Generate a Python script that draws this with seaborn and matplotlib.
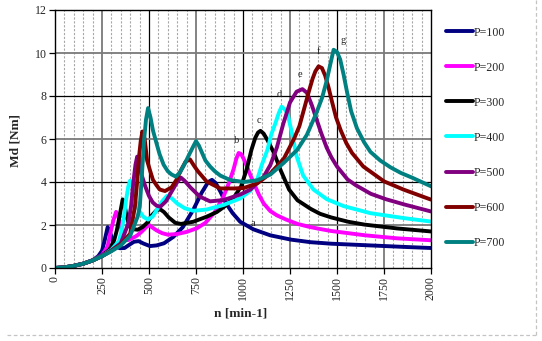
import matplotlib
matplotlib.use("Agg")
import matplotlib.pyplot as plt
from matplotlib.lines import Line2D
import numpy as np
import pandas as pd
import seaborn as sns

# ---------------- data ----------------
n_100 = [0, 50, 100, 150, 200, 230, 250, 262, 280, 292, 305, 320, 345, 370, 395, 420, 445, 470, 505, 540,
         580, 630, 680, 735, 780, 815, 835, 855, 880, 910, 945, 985, 1055, 1145, 1255, 1360, 1470, 1600,
         1730, 1860, 2000]
md_100 = [0, 0.03, 0.1, 0.2, 0.36, 0.55, 0.8, 1.2, 1.9, 1.7, 1.3, 1.02, 0.92, 0.93, 1.08, 1.22, 1.25, 1.14,
          1.02, 1.05, 1.15, 1.45, 1.9, 2.7, 3.5, 4.0, 4.1, 3.95, 3.55, 3.0, 2.55, 2.15, 1.8, 1.52, 1.32,
          1.2, 1.13, 1.08, 1.03, 0.98, 0.93]

n_200 = [0, 50, 100, 150, 200, 250, 280, 294, 311, 325, 335, 346, 359, 372, 390, 410, 435, 460, 485, 500,
         515, 540, 570, 600, 650, 700, 755, 800, 850, 895, 925, 950, 965, 977, 990, 1005, 1020, 1040, 1060,
         1085, 1110, 1145, 1180, 1230, 1290, 1350, 1400, 1470, 1560, 1650, 1820, 2000]
md_200 = [0, 0.03, 0.1, 0.2, 0.36, 0.6, 1.0, 1.6, 2.23, 2.61, 2.45, 2.07, 1.6, 1.3, 1.3, 1.38, 1.5, 1.68,
          1.9, 2.0, 1.9, 1.75, 1.62, 1.55, 1.58, 1.68, 1.85, 2.1, 2.6, 3.3, 3.95, 4.6, 5.1, 5.35, 5.3, 5.05,
          4.75, 4.3, 3.9, 3.4, 3.0, 2.65, 2.45, 2.25, 2.05, 1.92, 1.83, 1.72, 1.62, 1.52, 1.38, 1.29]

n_300 = [0, 50, 100, 150, 200, 250, 290, 315, 329, 346, 360, 370, 381, 398, 420, 440, 465, 490, 515, 540,
         560, 580, 605, 640, 670, 735, 805, 860, 900, 950, 990, 1020, 1045, 1065, 1080, 1093, 1110, 1130,
         1165, 1200, 1245, 1290, 1360, 1410, 1470, 1560, 1645, 1820, 2000]
md_300 = [0, 0.03, 0.1, 0.2, 0.35, 0.58, 0.85, 1.3, 1.76, 2.54, 3.19, 2.95, 2.38, 1.92, 1.8, 1.78, 1.9, 2.1,
          2.45, 2.68, 2.73, 2.6, 2.35, 2.1, 2.05, 2.15, 2.38, 2.6, 2.85, 3.25, 3.8, 4.6, 5.5, 6.05, 6.3, 6.38,
          6.25, 5.95, 5.35, 4.55, 3.65, 3.15, 2.75, 2.52, 2.35, 2.15, 2.02, 1.84, 1.7]

n_400 = [0, 50, 100, 150, 200, 250, 300, 340, 355, 367, 378, 390, 399, 410, 425, 445, 470, 495, 520, 545,
         570, 595, 620, 650, 690, 736, 807, 896, 986, 1040, 1075, 1100, 1130, 1150, 1173, 1190, 1205, 1220,
         1236, 1260, 1285, 1320, 1375, 1446, 1535, 1678, 1856, 2000]
md_400 = [0, 0.03, 0.1, 0.2, 0.35, 0.56, 0.85, 1.25, 1.76, 2.4, 3.16, 3.8, 4.06, 3.85, 3.2, 2.7, 2.38, 2.25,
          2.4, 2.75, 3.1, 3.35, 3.25, 3.0, 2.78, 2.66, 2.72, 2.93, 3.24, 3.6, 4.1, 4.8, 5.5, 6.2, 6.75, 7.2,
          7.5, 7.4, 7.2, 6.3, 5.2, 4.3, 3.65, 3.2, 2.88, 2.55, 2.32, 2.16]

n_500 = [0, 50, 100, 150, 200, 250, 300, 350, 390, 405, 416, 428, 437, 447, 460, 480, 500, 520, 540, 560,
         590, 620, 650, 670, 690, 720, 770, 825, 896, 986, 1040, 1075, 1110, 1146, 1180, 1214, 1250, 1285,
         1316, 1340, 1365, 1390, 1415, 1445, 1470, 1500, 1556, 1600, 1680, 1760, 1860, 2000]
md_500 = [0, 0.03, 0.1, 0.2, 0.35, 0.55, 0.82, 1.15, 2.07, 2.9, 3.94, 4.8, 5.18, 5.0, 4.35, 3.8, 3.35, 3.05,
          2.9, 2.85, 3.1, 3.55, 4.0, 4.2, 4.05, 3.75, 3.32, 3.1, 3.16, 3.42, 3.65, 3.95, 4.25, 4.8, 5.6,
          6.7, 7.7, 8.2, 8.32, 8.15, 7.6, 6.95, 6.3, 5.6, 5.15, 4.72, 4.12, 3.85, 3.45, 3.2, 2.95, 2.63]

n_600 = [0, 50, 100, 150, 200, 250, 300, 350, 400, 425, 437, 447, 456, 465, 477, 490, 505, 521, 540, 557,
         585, 620, 646, 670, 695, 718, 740, 760, 807, 879, 950, 1004, 1075, 1146, 1218, 1271, 1300, 1325,
         1350, 1370, 1385, 1402, 1420, 1437, 1455, 1473, 1495, 1520, 1550, 1580, 1640, 1750, 1856, 2000]
md_600 = [0, 0.03, 0.1, 0.2, 0.35, 0.55, 0.8, 1.1, 1.6, 2.85, 4.0, 5.18, 5.9, 6.35, 6.0, 5.0, 4.55, 4.1,
          3.85, 3.65, 3.58, 3.75, 4.1, 4.55, 4.95, 5.05, 4.75, 4.5, 4.02, 3.7, 3.7, 3.72, 3.93, 4.4, 5.1,
          6.0, 6.6, 7.4, 8.2, 8.8, 9.15, 9.38, 9.3, 8.95, 8.4, 7.75, 7.0, 6.4, 5.8, 5.35, 4.72, 4.03, 3.64,
          3.18]

n_700 = [0, 50, 100, 150, 200, 250, 300, 350, 400, 440, 451, 462, 474, 484, 495, 508, 521, 540, 556, 578,
         600, 620, 643, 665, 690, 715, 735, 750, 765, 780, 800, 825, 850, 879, 932, 1004, 1075, 1146, 1218,
         1289, 1340, 1390, 1420, 1445, 1465, 1482, 1500, 1517, 1535, 1553, 1575, 1606, 1644, 1678, 1730,
         1785, 1840, 1900, 2000]
md_700 = [0, 0.03, 0.1, 0.2, 0.35, 0.55, 0.78, 1.05, 1.5, 2.4, 2.85, 4.3, 5.96, 6.9, 7.44, 7.0, 6.4, 5.8,
          5.3, 4.8, 4.5, 4.35, 4.25, 4.45, 4.85, 5.3, 5.65, 5.9, 5.7, 5.4, 5.0, 4.72, 4.5, 4.3, 4.09, 4.0,
          4.08, 4.35, 4.9, 5.5, 6.2, 7.2, 7.9, 8.7, 9.5, 10.15, 10.05, 9.7, 9.0, 8.2, 7.3, 6.5, 5.85, 5.4,
          5.0, 4.68, 4.42, 4.2, 3.8]

series_names = ["P=100", "P=200", "P=300", "P=400", "P=500", "P=600", "P=700"]
series_colors = ["#000080", "#FF00FF", "#000000", "#00FFFF", "#800080", "#800000", "#008080"]

peak_labels = ["a", "b", "c", "d", "e", "f", "g"]
peak_label_n = [1053, 964, 1086, 1194, 1301, 1399, 1532]
peak_label_md = [2.08, 5.92, 6.88, 8.08, 8.98, 10.09, 10.6]

x_ticks = [0, 250, 500, 750, 1000, 1250, 1500, 1750, 2000]
y_ticks = [0, 2, 4, 6, 8, 10, 12]

# ---------------- build table ----------------
all_n = [n_100, n_200, n_300, n_400, n_500, n_600, n_700]
all_md = [md_100, md_200, md_300, md_400, md_500, md_600, md_700]
frames = []
for name, ns, ms in zip(series_names, all_n, all_md):
    frames.append(pd.DataFrame({"n": ns, "Md": ms, "P": name}))
df = pd.concat(frames, ignore_index=True)

# ---------------- figure ----------------
sns.set_theme(style="white")
plt.rcParams["font.family"] = ["Liberation Serif", "DejaVu Serif"]

W, H = 542, 341
fig = plt.figure(figsize=(W / 100, H / 100), dpi=100)
L, R, T, B = 55, 431, 10, 268
ax = fig.add_axes([L / W, 1 - B / H, (R - L) / W, (B - T) / H])

ax.set_xlim(0, 2000)
ax.set_ylim(0, 12)

# grid lines
for xv in range(50, 2000, 50):
    if xv % 250 == 0:
        continue
    ax.axvline(xv, color="#a8a8a8", lw=0.8, ls=(0, (2, 1.5)), zorder=0)
for xv in range(250, 2000, 250):
    if xv % 500 == 0:
        ax.axvline(xv, color="#000000", lw=0.9, zorder=0.5)
    else:
        ax.axvline(xv, color="#7a7a7a", lw=1.3, zorder=0.5)
for yv in range(2, 12, 2):
    if yv % 4 == 0:
        ax.axhline(yv, color="#000000", lw=0.9, zorder=0.5)
    else:
        ax.axhline(yv, color="#7a7a7a", lw=1.3, zorder=0.5)

sns.lineplot(data=df, x="n", y="Md", hue="P", hue_order=series_names,
             palette=dict(zip(series_names, series_colors)), estimator=None,
             sort=False, lw=2.8, ax=ax, legend=False, zorder=3)

for lab, xn, ym in zip(peak_labels, peak_label_n, peak_label_md):
    ax.text(xn, ym, lab, ha="center", va="center", fontsize=7.5, color="#222222", zorder=4)

ax.set_xticks(x_ticks)
ax.set_xticklabels([str(v) for v in x_ticks], rotation=90, fontsize=8.6)
ax.set_yticks(y_ticks)
ax.set_yticklabels([str(v) for v in y_ticks], fontsize=8.6)
ax.tick_params(axis="both", direction="out", length=4, width=0.9, color="black", pad=2)
ax.tick_params(axis="both", bottom=True, left=True)
ax.set_xlabel("")
ax.set_ylabel("")
for s in ax.spines.values():
    s.set_color("black")
    s.set_linewidth(1.0)
    s.set_zorder(5)

fig.text(241 / W, 1 - 314 / H, "n [min-1]", ha="center", va="center", fontsize=9.6, fontweight="bold")
fig.text(16 / W, 1 - 140 / H, "Md [Nm]", ha="center", va="center", rotation=90, fontsize=9.6,
         fontweight="bold")

handles = [Line2D([0], [0], color=c, lw=2.8) for c in series_colors]
leg = ax.legend(handles, series_names, loc="upper left", bbox_to_anchor=(446 / W, 1 - 26.5 / H),
                bbox_transform=fig.transFigure, frameon=False, fontsize=8.6, handlelength=2.25,
                handletextpad=0.1, labelspacing=1.93, borderaxespad=0, borderpad=0)

# outer dashed border
fig.add_artist(Line2D([7 / W, 536 / W], [1 - 335 / H, 1 - 335 / H], color="#c4c4c4", lw=0.9,
                      ls=(0, (3, 2)), transform=fig.transFigure))
fig.add_artist(Line2D([536 / W, 536 / W], [1 - 335 / H, 1.0], color="#c4c4c4", lw=0.9,
                      ls=(0, (3, 2)), transform=fig.transFigure))

fig.savefig("out.png", dpi=100)
